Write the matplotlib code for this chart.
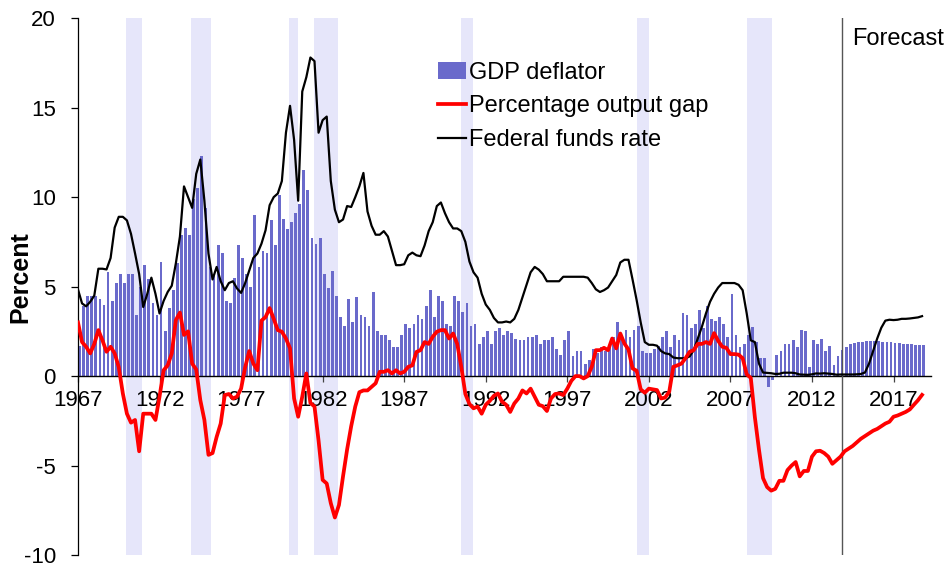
import numpy as np
import matplotlib
matplotlib.use("Agg")
import matplotlib.pyplot as plt
from matplotlib.patches import Patch
from matplotlib.lines import Line2D

plt.rcParams['font.family'] = ['Liberation Sans', 'DejaVu Sans']
plt.rcParams['axes.unicode_minus'] = False

start_year = 1967
years = list(range(1967, 2019))

# quarterly values, one row per year (Q1..Q4)
gdp_deflator = [
    [1.7, 3.9, 4.5, 4.5], [4.5, 4.3, 4.0, 5.8], [4.2, 5.2, 5.7, 5.2], [5.7, 5.7, 3.4, 5.0],
    [6.2, 5.4, 4.1, 3.4], [6.4, 2.5, 3.8, 4.8], [6.3, 7.9, 8.3, 7.9], [9.9, 10.5, 12.3, 9.4],
    [6.1, 5.6, 7.3, 6.9], [4.2, 4.1, 5.5, 7.3], [6.6, 5.7, 5.0, 9.0], [6.1, 7.0, 6.9, 8.7],
    [7.3, 10.1, 8.8, 8.2], [8.6, 9.1, 9.6, 11.5], [10.4, 7.7, 7.4, 7.7], [5.7, 4.9, 5.9, 4.5],
    [3.3, 2.8, 4.3, 3.0], [4.4, 3.4, 3.3, 2.8], [4.7, 2.5, 2.3, 2.3], [2.0, 1.6, 1.6, 2.3],
    [2.9, 2.7, 2.9, 3.4], [3.2, 3.9, 4.8, 3.3], [4.5, 4.2, 2.9, 2.8], [4.5, 4.2, 3.6, 4.1],
    [2.8, 2.9, 1.8, 2.2], [2.5, 1.8, 2.5, 2.7], [2.3, 2.5, 2.4, 2.1], [2.0, 2.0, 2.2, 2.2],
    [2.3, 1.8, 2.0, 2.0], [2.2, 1.5, 1.2, 2.0], [2.5, 1.1, 1.4, 1.4], [0.7, 0.9, 1.5, 1.3],
    [1.6, 1.4, 1.6, 2.2], [3.05, 2.2, 2.6, 2.2], [2.6, 2.8, 1.4, 1.3], [1.3, 1.5, 1.7, 2.2],
    [2.5, 1.6, 2.3, 2.0], [3.5, 3.4, 2.7, 2.9], [3.7, 2.7, 3.9, 3.2], [3.1, 3.3, 2.9, 2.2],
    [4.6, 2.3, 1.6, 1.8], [2.3, 2.75, 1.9, 1.0], [1.0, -0.6, -0.2, 1.2], [1.4, 1.8, 1.8, 2.0],
    [1.6, 2.6, 2.5, 0.5], [2.0, 1.8, 2.1, 1.4], [1.7, 0.6, 1.1, 1.45], [1.6, 1.8, 1.86, 1.9],
    [1.93, 1.95, 1.95, 1.95], [1.95, 1.93, 1.9, 1.88], [1.86, 1.85, 1.82, 1.8], [1.78, 1.76, 1.75, 1.75],
]

output_gap = [
    [3.0, 1.9, 1.64, 1.27], [1.8, 2.57, 2.0, 1.36], [1.64, 1.27, 0.5, -0.97], [-2.1, -2.6, -2.45, -4.2],
    [-2.1, -2.1, -2.1, -2.45], [-1.15, 0.33, 0.6, 1.27], [3.13, 3.55, 2.3, 2.5], [0.7, 0.37, -1.34, -2.45],
    [-4.4, -4.3, -3.4, -2.65], [-1.06, -1.0, -1.25, -1.15], [-0.7, 0.5, 1.4, 0.7], [0.33, 3.1, 3.3, 3.8],
    [3.2, 2.57, 2.48, 2.1], [1.55, -1.25, -2.27, -1.15], [0.15, -1.5, -1.7, -3.6], [-5.8, -6.0, -7.1, -7.9],
    [-7.2, -5.6, -4.1, -2.8], [-1.7, -0.9, -0.8, -0.8], [-0.6, -0.4, 0.24, 0.24], [0.33, 0.15, 0.33, 0.15],
    [0.24, 0.52, 0.6, 1.35], [1.45, 1.9, 1.8, 2.2], [2.48, 2.57, 2.57, 2.1], [2.38, 1.8, 0.52, -1.0],
    [-1.56, -1.8, -1.7, -2.1], [-1.6, -1.38, -1.1, -0.97], [-1.43, -1.6, -2.0, -1.53], [-1.25, -0.8, -0.97, -0.7],
    [-1.15, -1.6, -1.68, -1.95], [-1.25, -1.0, -0.97, -1.06], [-0.7, -0.26, 0.0, 0.0], [-0.13, 0.0, 0.52, 1.45],
    [1.45, 1.58, 1.45, 2.1], [1.55, 2.38, 1.82, 1.49], [0.43, 0.3, -0.74, -0.93], [-0.7, -0.74, -0.78, -1.25],
    [-1.2, -0.87, 0.52, 0.6], [0.7, 1.0, 1.36, 1.45], [1.8, 1.8, 1.9, 1.8], [2.4, 1.97, 1.64, 1.58],
    [1.23, 1.23, 1.2, 1.0], [0.1, -0.1, -2.3, -4.1], [-5.7, -6.2, -6.4, -6.3], [-5.85, -5.85, -5.25, -5.0],
    [-4.8, -5.6, -5.3, -5.3], [-4.5, -4.2, -4.17, -4.3], [-4.5, -4.9, -4.7, -4.5], [-4.2, -4.05, -3.9, -3.7],
    [-3.5, -3.35, -3.2, -3.05], [-2.95, -2.8, -2.65, -2.55], [-2.27, -2.2, -2.1, -2.0], [-1.86, -1.6, -1.35, -1.05],
]

fed_funds = [
    [4.84, 4.06, 3.9, 4.15], [4.5, 6.0, 6.0, 5.96], [6.6, 8.3, 8.9, 8.9], [8.7, 7.95, 6.85, 5.7],
    [3.86, 4.6, 5.5, 4.6], [3.5, 4.2, 4.7, 5.05], [6.3, 7.8, 10.6, 10.0], [9.4, 11.3, 12.1, 9.8],
    [6.85, 5.4, 6.1, 5.3], [4.8, 5.2, 5.3, 4.9], [4.65, 5.2, 5.9, 6.6], [6.85, 7.4, 8.15, 9.55],
    [10.0, 10.2, 10.9, 13.6], [15.1, 13.2, 9.8, 15.9], [16.7, 17.8, 17.6, 13.6], [14.3, 14.5, 10.9, 9.3],
    [8.6, 8.75, 9.5, 9.45], [10.0, 10.6, 11.35, 9.2], [8.4, 7.9, 7.9, 8.1], [7.8, 7.0, 6.2, 6.2],
    [6.25, 6.75, 6.9, 6.75], [6.7, 7.3, 8.1, 8.6], [9.5, 9.7, 9.1, 8.6], [8.25, 8.25, 8.1, 7.5],
    [6.4, 5.8, 5.5, 4.6], [4.0, 3.7, 3.25, 3.0], [3.0, 3.05, 3.0, 3.2], [3.7, 4.4, 5.1, 5.8],
    [6.1, 5.95, 5.7, 5.3], [5.3, 5.3, 5.3, 5.55], [5.55, 5.55, 5.55, 5.55], [5.55, 5.5, 5.2, 4.85],
    [4.7, 4.8, 4.95, 5.3], [5.65, 6.35, 6.5, 6.5], [5.4, 4.25, 3.0, 1.9], [1.75, 1.75, 1.7, 1.4],
    [1.27, 1.23, 1.04, 1.0], [1.0, 1.0, 1.1, 1.45], [2.1, 2.75, 3.5, 4.15], [4.6, 4.95, 5.2, 5.2],
    [5.2, 5.2, 5.1, 4.8], [3.5, 2.0, 1.9, 0.7], [0.2, 0.18, 0.16, 0.12], [0.13, 0.19, 0.19, 0.19],
    [0.16, 0.09, 0.08, 0.07], [0.1, 0.15, 0.14, 0.16], [0.14, 0.12, 0.08, 0.09], [0.09, 0.09, 0.09, 0.1],
    [0.12, 0.2, 0.7, 1.4], [2.1, 2.7, 3.1, 3.15], [3.13, 3.15, 3.2, 3.2], [3.22, 3.25, 3.28, 3.35],
]

recessions = [(1969.94, 1970.92), (1973.92, 1975.17), (1979.95, 1980.46), (1981.46, 1982.97),
              (1990.49, 1991.24), (2001.27, 2002.0), (2008.03, 2009.52)]
forecast_start = 2013.87
tick_years = list(range(1967, 2018, 5))

gdp = np.array(gdp_deflator).ravel()
gap = np.array(output_gap).ravel()
ffr = np.array(fed_funds).ravel()
x = start_year + np.arange(len(gdp)) * 0.25

fig = plt.figure(figsize=(9.51, 5.67), dpi=100)
ax = fig.add_axes([0.082, 0.021, 0.897, 0.947])

for a, b in recessions:
    ax.axvspan(a, b, color="#e6e6fa", lw=0, zorder=0)

bar_color = "#6a6acb"
ax.bar(x + 0.01, gdp, width=0.17, align="edge", color=bar_color, lw=0, zorder=1)
ax.plot(x, ffr, color="black", lw=1.6, zorder=3.5)
ax.plot(x, gap, color="#ff0000", lw=2.7, zorder=4)

ax.axvline(forecast_start, color="#555555", lw=1.0, zorder=3)
ax.text(2014.45, 18.85, "Forecast", fontsize=17, va="center", ha="left")

ax.set_xlim(1967, 2019.3)
ax.set_ylim(-10, 20)
ax.set_yticks([-10, -5, 0, 5, 10, 15, 20])
ax.set_xticks(tick_years)
ax.set_xticklabels([str(y) for y in tick_years])

for s in ["top", "right"]:
    ax.spines[s].set_visible(False)
ax.spines["bottom"].set_position(("data", 0))
ax.spines["bottom"].set_zorder(2)
ax.spines["left"].set_linewidth(0.9)
ax.spines["bottom"].set_linewidth(1.0)
ax.tick_params(axis="y", labelsize=16, length=5, width=0.9, pad=11)
ax.tick_params(axis="x", labelsize=16, length=4, width=0.9, pad=6, color="#444444")

fig.text(20 / 951, 1 - 277 / 567, "Percent", rotation=90, fontsize=18,
         fontweight="bold", ha="center", va="center")

handles = [Patch(facecolor=bar_color, edgecolor="none"),
           Line2D([0], [0], color="#ff0000", lw=2.7),
           Line2D([0], [0], color="black", lw=1.6)]
labels = ["GDP deflator", "Percentage output gap", "Federal funds rate"]
ax.legend(handles, labels, loc="upper left", bbox_to_anchor=(0.422, 0.919),
          frameon=False, fontsize=17, borderpad=0, borderaxespad=0,
          handlelength=1.2, handletextpad=0.1, labelspacing=0.49)

fig.savefig("out.png", dpi=100)
